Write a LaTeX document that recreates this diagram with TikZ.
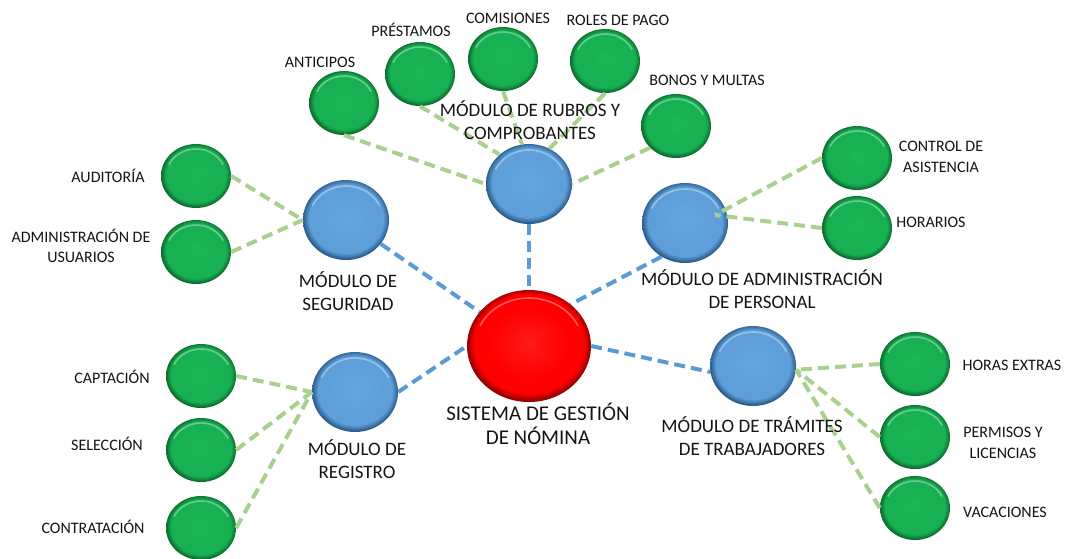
\documentclass[tikz,border=0pt]{standalone}
\usepackage{fontspec}
\setmainfont{Carlito}
\usetikzlibrary{shapes.geometric,backgrounds}

% palette
\definecolor{gball}{HTML}{17B052}
\definecolor{gmid}{HTML}{1DB757}
\definecolor{gdark}{HTML}{0B6A2D}
\definecolor{bball}{HTML}{5E9FDA}
\definecolor{bmid}{HTML}{66A6E0}
\definecolor{bdark}{HTML}{2C5C8C}
\definecolor{rball}{HTML}{FF0000}
\definecolor{rmid}{HTML}{FF1A1A}
\definecolor{rdark}{HTML}{960000}
\definecolor{lgreen}{HTML}{A9D18E}
\definecolor{lblue}{HTML}{5B9BD5}
\definecolor{txt}{HTML}{141414}

% bevelled balls: flat face, dark rim, thicker at the bottom
\pgfdeclareradialshading{greenball}{\pgfpoint{0bp}{1.5bp}}{color(0bp)=(gmid); color(16bp)=(gball); color(21.5bp)=(gball); color(25bp)=(gdark); color(50bp)=(gdark)}
\pgfdeclareradialshading{blueball}{\pgfpoint{0bp}{1.5bp}}{color(0bp)=(bmid); color(16bp)=(bball); color(21.5bp)=(bball); color(25bp)=(bdark); color(50bp)=(bdark)}
\pgfdeclareradialshading{redball}{\pgfpoint{0bp}{1.5bp}}{color(0bp)=(rmid); color(16bp)=(rball); color(22bp)=(rball); color(25bp)=(rdark); color(50bp)=(rdark)}

\tikzset{
  ball/.style={ellipse, inner sep=0pt, draw=none, shade},
  shine/.style 2 args={path picture={
      \draw[white, opacity=.35, line width=1.6pt]
        (path picture bounding box.center) ++(205:#1 and #2)
        arc[start angle=205, end angle=335, x radius=#1, y radius=#2];}},
  gnode/.style={ball, minimum width=70pt, minimum height=64pt, shading=greenball, shine={30}{27}},
  bnode/.style={ball, minimum width=86pt, minimum height=80pt, shading=blueball, shine={37}{34}},
  rnode/.style={ball, minimum width=124pt, minimum height=112pt, shading=redball, shine={54}{48}},
  glink/.style={draw=lgreen, line width=4pt, dash pattern=on 11pt off 6pt},
  blink/.style={draw=lblue, line width=4pt, dash pattern=on 11pt off 6pt},
  lbl/.style={font=\fontsize{16}{20.5}\selectfont, text=txt, align=center, inner sep=0pt},
  mlbl/.style={font=\fontsize{19}{23}\selectfont, text=txt, align=center, inner sep=0pt},
  clbl/.style={font=\fontsize{21}{24}\selectfont, text=txt, align=center, inner sep=0pt}
}

\begin{document}
\begin{tikzpicture}[x=1pt, y=-1pt]
\useasboundingbox (0,0) rectangle (1066,558);

% central system and its modules
\node[rnode] (sis) at (529,346) {};
\node[bnode] (rub) at (529,184) {};
\node[bnode] (seg) at (346,220) {};
\node[bnode] (adm) at (685,223) {};
\node[bnode] (tra) at (753,366) {};
\node[bnode] (reg) at (355,392) {};
\coordinate (admhub) at (715,215);

% sub-functions
\node[gnode] (ant) at (344,103) {};
\node[gnode] (pre) at (420,74) {};
\node[gnode] (com) at (503,59) {};
\node[gnode] (rol) at (605,61) {};
\node[gnode] (bon) at (676,126) {};
\node[gnode] (ctl) at (857,158) {};
\node[gnode] (hor) at (857,228) {};
\node[gnode] (aud) at (196,176) {};
\node[gnode] (usu) at (196,252) {};
\node[gnode] (cap) at (201,376) {};
\node[gnode] (sel) at (201,450) {};
\node[gnode] (con) at (201,528) {};
\node[gnode] (hex) at (915,364) {};
\node[gnode] (per) at (915,437) {};
\node[gnode] (vac) at (915,508) {};

% module -> system links, behind the balls
\begin{scope}[on background layer]
\draw[blink] (rub) -- (sis);
\draw[blink] (seg) -- (sis);
\draw[blink] (adm.235) -- (sis.45);
\draw[blink] (sis.east) -- (tra.188);
\draw[blink] (reg.east) -- (sis.west);
\end{scope}

% sub-function -> module links
\draw[glink] (ant.south) -- (rub.west);
\draw[glink] (pre.south) -- (rub.135);
\draw[glink] (com.south) -- (rub.100);
\draw[glink] (rol.south) -- (rub.60);
\draw[glink] (bon.220) -- (rub.east);
\draw[glink] (aud.east) -- (seg.west);
\draw[glink] (usu.east) -- (seg.west);
\draw[glink] (ctl.west) -- (admhub);
\draw[glink] (hor.west) -- (admhub);
\draw[glink] (cap.east) -- (reg.west);
\draw[glink] (sel.east) -- (reg.west);
\draw[glink] (con.east) -- (reg.west);
\draw[glink] (hex.west) -- (tra.-5);
\draw[glink] (per.west) -- (tra.-5);
\draw[glink] (vac.west) -- (tra.-5);

% labels
\node[lbl] (tant) at (320,62) {ANTICIPOS};
\node[lbl] (tpre) at (411,30) {PRÉSTAMOS};
\node[lbl] (tcom) at (508,18) {COMISIONES};
\node[lbl] (trol) at (618,20) {ROLES DE PAGO};
\node[lbl] (tbon) at (707,80) {BONOS Y MULTAS};
\node[lbl] (tctl) at (941,157) {CONTROL DE\\ASISTENCIA};
\node[lbl] (thor) at (931,222) {HORARIOS};
\node[lbl] (taud) at (108,176) {AUDITORÍA};
\node[lbl] (tusu) at (81,246) {ADMINISTRACIÓN DE\\USUARIOS};
\node[lbl] (tcap) at (112,377) {CAPTACIÓN};
\node[lbl] (tsel) at (107,444) {SELECCIÓN};
\node[lbl] (tcon) at (93,527) {CONTRATACIÓN};
\node[lbl] (thex) at (1012,365) {HORAS EXTRAS};
\node[lbl] (tper) at (1003,443) {PERMISOS Y\\LICENCIAS};
\node[lbl] (tvac) at (1005,512) {VACACIONES};

\node[mlbl] (trub) at (530,120) {MÓDULO DE RUBROS Y\\COMPROBANTES};
\node[mlbl] (tseg) at (348,291) {MÓDULO DE\\SEGURIDAD};
\node[mlbl] (tadm) at (762,289) {MÓDULO DE ADMINISTRACIÓN\\DE PERSONAL};
\node[mlbl] (treg) at (357,459) {MÓDULO DE\\REGISTRO};
\node[mlbl] (ttra) at (752,436) {MÓDULO DE TRÁMITES\\DE TRABAJADORES};
\node[clbl] (tsis) at (538,424) {SISTEMA DE GESTIÓN\\DE NÓMINA};
\end{tikzpicture}
\end{document}
